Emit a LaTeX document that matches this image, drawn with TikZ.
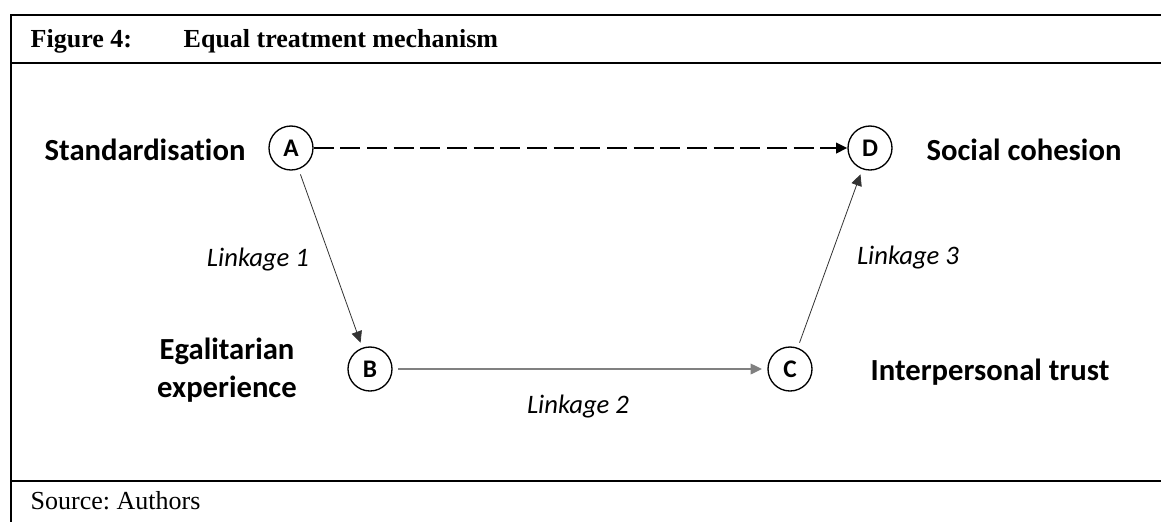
\documentclass[tikz,border=0pt]{standalone}
\usepackage{fontspec}
\setmainfont{Liberation Serif}
\newfontfamily\calibri[Ligatures=NoCommon]{Carlito}
\usetikzlibrary{arrows.meta}
\frenchspacing
\begin{document}
\begin{tikzpicture}[x=0.75pt, y=-0.75pt,
    frame/.style={line width=1.5pt},
    circ/.style={draw, circle, line width=1pt, minimum size=33pt, inner sep=0pt,
                 font=\calibri\bfseries\fontsize{19}{22}\selectfont},
    lbl/.style={font=\calibri\bfseries\fontsize{23}{28}\selectfont, align=center},
    link/.style={font=\calibri\itshape\fontsize{20}{24}\selectfont},
    arr/.style={-{Triangle[length=8.5pt, width=8pt]}, line width=0.6pt, black!80,
                shorten <=4pt, shorten >=4pt}]
            \useasboundingbox (0,0) rectangle (1161,522);
            \draw[frame] (1161,15) -- (11,15) -- (11,522);
            \draw[frame] (11,63) -- (1161,63);
            \draw[frame] (11,481) -- (1161,481);

            \node[anchor=base west, font=\bfseries\fontsize{19.5}{23}\selectfont] (fignum) at (26,47) {Figure 4:};
            \node[anchor=base west, font=\bfseries\fontsize{19.5}{23}\selectfont] (figtitle) at (179,47) {Equal treatment mechanism};
            \node[anchor=base west, font=\fontsize{19.5}{23}\selectfont] (source) at (26,509) {Source: Authors};

            \node[circ] (A) at (291,148) {A};
            \node[circ] (B) at (370,369) {B};
            \node[circ] (C) at (790,369) {C};
            \node[circ] (D) at (870,148) {D};

            \node[lbl] (stdlbl) at (145,150) {Standardisation};
            \node[lbl] (egallbl) at (227,370) {Egalitarian\\experience};
            \node[lbl] (trustlbl) at (990,372) {Interpersonal trust};
            \node[lbl] (cohlbl) at (1024,150) {Social cohesion};

            \node[link] (link1) at (258,260) {Linkage 1};
            \node[link] (link2) at (578,407) {Linkage 2};
            \node[link] (link3) at (908,258) {Linkage 3};

            \draw[-{Triangle[length=8.5pt, width=8pt]}, line width=1.5pt, dash pattern=on 15pt off 5pt] (A) -- (D);
            \draw[arr] (A) -- (B);
            \draw[arr, gray, line width=1pt] (B) -- (C);
            \draw[arr] (C) -- (D);
        \end{tikzpicture}
\end{document}
